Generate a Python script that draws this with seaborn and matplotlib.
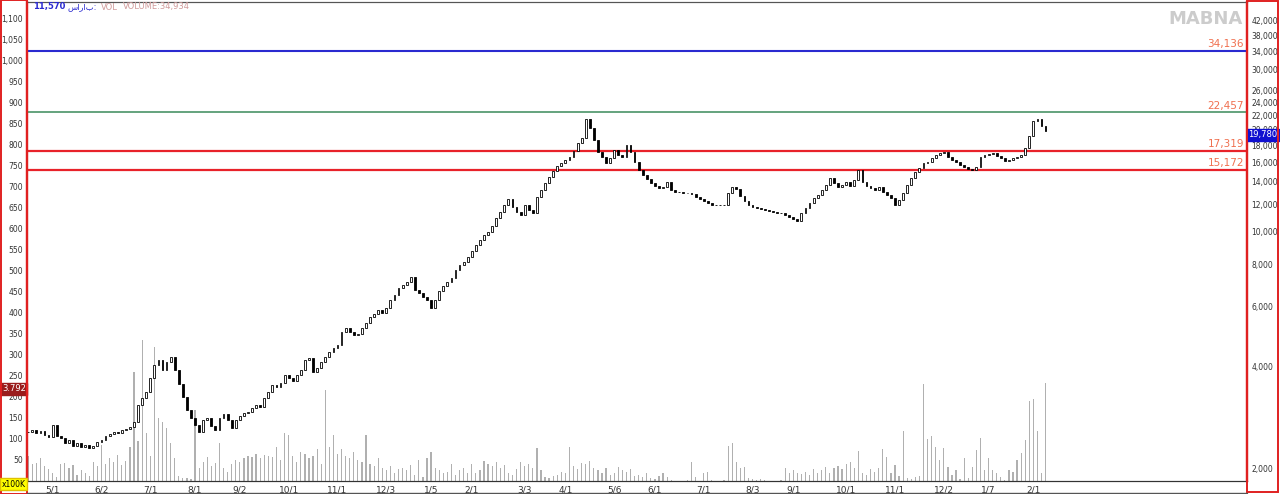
import numpy as np
import pandas as pd
import matplotlib
matplotlib.use("Agg")
import matplotlib.pyplot as plt
import matplotlib.transforms as mtransforms
from matplotlib.patches import Rectangle
import seaborn as sns

# ---------------- data ----------------
close = [
    2555, 2590, 2537, 2572, 2504, 2470, 2680, 2487, 2453, 2371,
    2420, 2323, 2371, 2307, 2339, 2292, 2323, 2387, 2420, 2487,
    2521, 2555, 2537, 2590, 2608, 2644, 2735, 3071, 3220, 3354,
    3689, 4030, 4170, 3895, 4114, 4255, 3895, 3542, 3242, 2968,
    2810, 2680, 2555, 2772, 2810, 2662, 2590, 2810, 2888, 2772,
    2626, 2772, 2849, 2908, 2928, 3008, 3071, 3029, 3220, 3354,
    3518, 3470, 3566, 3765, 3689, 3615, 3765, 3895, 4170, 4227,
    3842, 3949, 4114, 4255, 4402, 4523, 4618, 5045, 5184, 5045,
    4943, 4977, 5184, 5365, 5586, 5702, 5859, 5741, 5940, 6271,
    6488, 6807, 6945, 7088, 7333, 6713, 6578, 6400, 6271, 5940,
    6271, 6667, 6898, 7088, 7285, 7691, 7957, 8121, 8401, 8752,
    9117, 9433, 9759, 9963, 10375, 10957, 11411, 11968, 12470, 11806,
    11411, 11181, 11968, 11568, 11334, 12637, 13255, 13900, 14478, 15084,
    15606, 15927, 16256, 16590, 17282, 18249, 18881, 21485, 20211, 18625,
    17164, 16590, 15927, 16479, 17400, 16818, 16590, 18002, 17164, 16036,
    15187, 14678, 14285, 13900, 13620, 13435, 13527, 13995, 13255, 13075,
    13075, 12986, 12986, 12898, 12637, 12470, 12298, 12131, 11968, 11968,
    11968, 11968, 12986, 13527, 13345, 12724, 12298, 11968, 11806, 11726,
    11646, 11568, 11490, 11411, 11334, 11334, 11181, 11030, 10882, 10735,
    11334, 11726, 12131, 12553, 12811, 13255, 13713, 14382, 13900, 13527,
    13713, 13995, 13620, 14188, 15187, 13995, 13620, 13435, 13255, 13527,
    13075, 12811, 12553, 11968, 12383, 12986, 13713, 14382, 14981, 15395,
    15927, 16036, 16479, 16818, 17048, 17164, 16590, 16256, 16036, 15712,
    15499, 15291, 15187, 15499, 16590, 16818, 16933, 17048, 16703, 16479,
    16146, 16256, 16479, 16590, 16818, 17638, 19138, 21195, 21485, 20485,
    19780,
]

volume = [
    60, 40, 42, 55, 35, 28, 18, 10, 40, 44,
    30, 38, 15, 25, 20, 12, 45, 35, 86, 40,
    55, 45, 62, 38, 48, 80, 260, 95, 336, 115,
    60, 320, 150, 140, 126, 90, 55, 12, 8, 6,
    5, 170, 30, 45, 58, 35, 42, 90, 30, 22,
    40, 50, 45, 55, 60, 58, 65, 55, 62, 60,
    58, 80, 50, 115, 110, 60, 45, 70, 65, 55,
    60, 75, 40, 217, 80, 110, 65, 75, 60, 55,
    70, 50, 45, 110, 40, 35, 55, 30, 25, 35,
    20, 28, 32, 25, 38, 15, 50, 10, 55, 70,
    30, 25, 18, 22, 40, 15, 25, 30, 20, 40,
    18, 25, 48, 40, 35, 45, 30, 38, 20, 15,
    28, 45, 35, 40, 30, 79, 25, 10, 8, 12,
    15, 22, 20, 81, 35, 28, 44, 40, 47, 30,
    25, 20, 31, 15, 18, 33, 25, 22, 28, 12,
    15, 10, 20, 8, 5, 12, 18, 10, 2, 1,
    1, 1, 3, 45, 10, 1, 18, 22, 3, 1,
    1, 2, 83, 91, 45, 30, 34, 6, 5, 2,
    5, 2, 1, 1, 1, 3, 30, 18, 25, 20,
    16, 22, 14, 28, 20, 25, 33, 18, 30, 35,
    28, 40, 45, 30, 72, 20, 15, 28, 22, 30,
    75, 56, 20, 38, 12, 118, 8, 5, 10, 12,
    231, 100, 106, 82, 50, 78, 34, 14, 26, 5,
    54, 8, 34, 74, 102, 26, 54, 26, 18, 10,
    3, 25, 22, 50, 66, 98, 190, 195, 120, 20,
    234,
]

date_tick_pos = [6, 18, 30, 41, 52, 64, 76, 88, 99, 109, 122,
                 132, 144, 154, 166, 178, 188, 201, 213, 225, 236, 247]
date_tick_labels = ["5/1", "6/2", "7/1", "8/1", "9/2", "10/1", "11/1", "12/3",
                    "1/5", "2/1", "3/3", "4/1", "5/6", "6/1", "7/1", "8/3",
                    "9/1", "10/1", "11/1", "12/2", "1/7", "2/1"]

level_values = [34136, 22457, 17319, 15172]
level_labels = ["34,136", "22,457", "17,319", "15,172"]

left_tick_values = list(range(50, 1101, 50))
right_tick_values = [2000, 4000, 6000, 8000, 10000, 12000, 14000, 16000, 18000,
                     20000, 22000, 24000, 26000, 30000, 34000, 38000, 42000]

last_price = 19780
header_price = "11,570"
header_symbol = "ساراب:"
header_vol = "VOLUME:34,934"
vol_badge = "3.792"

# ---------------- frame ----------------
df = pd.DataFrame({"idx": np.arange(len(close)), "close": close, "volume": volume})
df["open"] = df["close"].shift(1).fillna(df["close"].iloc[0])

sns.set_style("white")
plt.rcParams['font.family'] = ['DejaVu Sans']

W, H = 1280, 494
fig = plt.figure(figsize=(12.8, 4.94), dpi=100)
L, R = 27 / W, 1247 / W
B, T = 13 / H, 492 / H
axv = fig.add_axes([L, B, R - L, T - B])
ax = axv.twinx()

# volume bars (left axis)
sns.barplot(data=df, x="idx", y="volume", ax=axv, native_scale=True,
            color="#b0b0b0", width=0.3, linewidth=0, saturation=1)
axv.set_ylim(0, 1140)
axv.set_xlim(-0.3, 299.5)
axv.set_xlabel("")
axv.set_ylabel("")
axv.set_yticks(left_tick_values)
axv.set_yticklabels([f"{v:,}" for v in left_tick_values], fontsize=5.5, color="#333333")
axv.set_xticks(date_tick_pos)
axv.set_xticklabels(date_tick_labels, fontsize=6.5, color="#333333")
axv.tick_params(axis="y", length=0, pad=3)
axv.tick_params(axis="x", length=2, pad=1, color="#555555")

# candles (right log axis)
up = df["close"] >= df["open"]
lo = np.minimum(df["open"], df["close"])
hi = np.maximum(df["open"], df["close"])
ax.set_yscale("log")
ax.bar(df["idx"][up], (hi - lo)[up], bottom=lo[up], width=0.45,
       color="white", edgecolor="black", linewidth=0.6, zorder=3)
ax.bar(df["idx"][~up], (hi - lo)[~up], bottom=lo[~up], width=0.45,
       color="black", edgecolor="black", linewidth=0.6, zorder=3)
ax.set_ylim(1831, 47620)
ax.set_xlim(-0.3, 299.5)
ax.set_yticks(right_tick_values)
ax.set_yticklabels([f"{v:,}" for v in right_tick_values], fontsize=5.5, color="#333333")
ax.yaxis.set_minor_locator(matplotlib.ticker.NullLocator())
ax.tick_params(axis="y", length=0, pad=3)

# support / resistance levels
level_colors = ["#2a2ad0", "#3a8a5a", "#e8222a", "#e8222a"]
level_widths = [1.5, 1.1, 1.6, 1.6]
trans = mtransforms.blended_transform_factory(ax.transAxes, ax.transData)
for v, lab, c, lw in zip(level_values, level_labels, level_colors, level_widths):
    ax.axhline(v, color=c, lw=lw, zorder=2)
    ax.text(0.9975, v * 1.012, lab, transform=trans, ha="right", va="bottom",
            fontsize=7.5, color="#f07050")

# last price badge
ax.text(1.001, last_price * 0.975, f"{last_price:,}", transform=trans, ha="left", va="center",
        fontsize=6, color="white", clip_on=False, zorder=10,
        bbox=dict(boxstyle="square,pad=0.2", fc="#1010d0", ec="#1010d0"))

# spines
for s in ["left", "right"]:
    axv.spines[s].set_color("#e02020")
    axv.spines[s].set_linewidth(1.6)
    ax.spines[s].set_color("#e02020")
    ax.spines[s].set_linewidth(1.6)
ax.spines["top"].set_color("#555555")
axv.spines["top"].set_color("#555555")
ax.spines["bottom"].set_color("#333333")
axv.spines["bottom"].set_color("#333333")

# side strips
fig.add_artist(Rectangle((1 / W, 0), 26 / W, 1, transform=fig.transFigure,
                         fill=False, ec="#e02020", lw=1.4))
fig.add_artist(Rectangle((1247 / W, 2 / H), 31 / W, 491 / H, transform=fig.transFigure,
                         fill=False, ec="#e02020", lw=1.4))
fig.add_artist(plt.Line2D([27 / W, 1247 / W], [1 / H, 1 / H], transform=fig.transFigure,
                          color="#555555", lw=1))

# volume badge on left axis
trans_v = mtransforms.blended_transform_factory(axv.transAxes, axv.transData)
axv.text(-0.001, 219, vol_badge, transform=trans_v, ha="right", va="center",
         fontsize=6, color="white", clip_on=False,
         bbox=dict(boxstyle="square,pad=0.2", fc="#9a1c1c", ec="#9a1c1c"))

# x100K badge
fig.text(1.5 / W, 1 - 484 / H, "x100K", fontsize=5.5, color="black", ha="left", va="center",
         bbox=dict(boxstyle="square,pad=0.15", fc="#ffff00", ec="#e0c000"))

# header
fig.text(33 / W, 1 - 7 / H, header_price, fontsize=6, color="#2a2ad0",
         ha="left", va="center", fontweight="bold")
fig.text(67 / W, 1 - 7 / H, header_symbol, fontsize=6, color="#2a2ad0",
         ha="left", va="center")
fig.text(101 / W, 1 - 7 / H, "VOL", fontsize=6, color="#d09a9a", ha="left", va="center")
fig.text(123 / W, 1 - 7 / H, header_vol, fontsize=6, color="#d09a9a", ha="left", va="center")

# watermark
fig.text(1205 / W, 1 - 19 / H, "MABNA", fontsize=13, fontweight="bold",
         color="#cccccc", ha="center", va="center")

fig.savefig("out.png", dpi=100)
